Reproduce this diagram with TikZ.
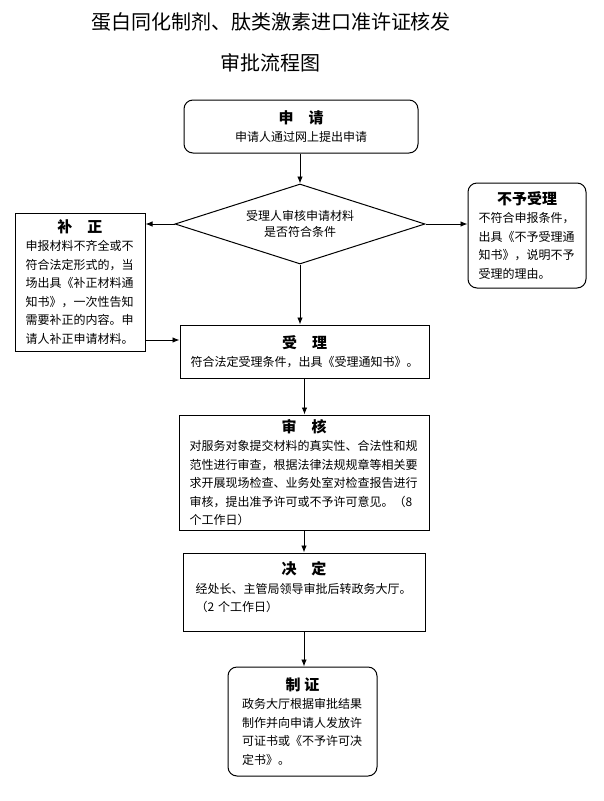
\documentclass[tikz,border=0pt]{standalone}
\usepackage{fontspec}
\setmainfont{Noto Sans CJK SC}
\usetikzlibrary{shapes.geometric,arrows.meta}
\newcommand{\boxhead}[1]{\hbox to\hsize{\hss\fontsize{15}{18}\selectfont\bfseries #1\hss}}
\begin{document}
\begin{tikzpicture}
[x=1pt,y=-1pt,
  boxdecorate/.style={shape=rectangle,draw,line width=1pt,inner sep=0pt,
    align=left,font=\fontsize{12}{18.5}\selectfont},
  roundboxdecorate/.style={boxdecorate,rounded corners=9pt},
  linedecorate/.style={line width=0.9pt,-{Latex[length=7pt,width=5.5pt]}}]
\useasboundingbox (0,0) rectangle (604,801);
%% title
\node (title) at (271,42.5) [align=center,font=\fontsize{20}{41}\selectfont]
  {蛋白同化制剂、肽类激素进口准许证核发\\审批流程图};
%% nodes or boxes
\node (apply) at (301,126.5) [roundboxdecorate,align=center,
  minimum width=234pt,minimum height=53pt]
  {{\fontsize{15}{18}\selectfont\bfseries 申\quad 请}\\申请人通过网上提出申请};
\node (check) at (300,224) [shape=diamond,draw,line width=1pt,aspect=3.125,
  minimum width=250pt,minimum height=80pt,inner sep=0pt,align=center,
  font=\fontsize{12}{16}\selectfont]
  {受理人审核申请材料\\是否符合条件};
\node (reject) at (527,235.5) [roundboxdecorate,text width=97pt,
  minimum width=118pt,minimum height=105pt]
  {\boxhead{不予受理}\\不符合申报条件，\\出具《不予受理通\\知书》，说明不予\\受理的理由。};
\node (correct) at (80,282) [boxdecorate,text width=109pt,
  minimum width=130pt,minimum height=138pt]
  {\boxhead{补\quad 正}\\申报材料不齐全或不\\符合法定形式的，当\\场出具《补正材料通\\知书》，一次性告知\\需要补正的内容。申\\请人补正申请材料。};
\node (accept) at (304.5,351.5) [boxdecorate,align=center,
  minimum width=249pt,minimum height=53pt]
  {{\fontsize{15}{18}\selectfont\bfseries 受\quad 理}\\符合法定受理条件，出具《受理通知书》。};
\node (review) at (304,472.5) [boxdecorate,text width=229pt,
  minimum width=250pt,minimum height=115pt]
  {\boxhead{审\quad 核}\\对服务对象提交材料的真实性、合法性和规\\范性进行审查，根据法律法规规章等相关要\\求开展现场检查、业务处室对检查报告进行\\审核，提出准予许可或不予许可意见。（8\\个工作日）};
\node (decide) at (304,592) [boxdecorate,text width=217pt,text depth=48pt,
  minimum width=242pt,minimum height=78pt]
  {\boxhead{决\quad 定}\\经处长、主管局领导审批后转政务大厅。\\（2 个工作日）};
\node (issue) at (302.5,721.5) [roundboxdecorate,text width=121pt,
  minimum width=149pt,minimum height=109pt]
  {\boxhead{制 证}\\政务大厅根据审批结果\\制作并向申请人发放许\\可证书或《不予许可决\\定书》。};
\coordinate (fixin) at ([yshift=11.5pt]accept.west);
%% edges or lines
\draw[linedecorate] (check.north |- apply.south) -- (check.north);
\draw[linedecorate] (check.south) -- (check.south |- accept.north);
\draw[linedecorate] (check.west) -- (check.west -| correct.east);
\draw[linedecorate] (check.east) -- (check.east -| reject.west);
\draw[linedecorate] (fixin -| correct.east) -- (fixin);
\draw[linedecorate] (accept.south) -- (accept.south |- review.north);
\draw[linedecorate] (review.south) -- (review.south |- decide.north);
\draw[linedecorate] (decide.south) -- (decide.south |- issue.north);
\end{tikzpicture}
\end{document}
